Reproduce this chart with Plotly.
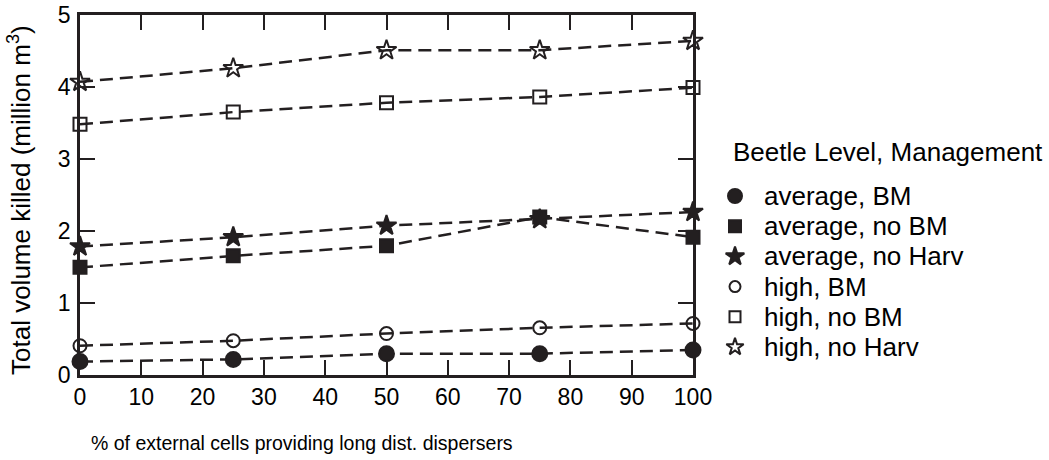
import plotly.graph_objects as go

# ---- data ----
dispersal_pct = [0, 25, 50, 75, 100]
avg_bm = [0.18, 0.21, 0.29, 0.29, 0.34]
avg_no_bm = [1.49, 1.65, 1.79, 2.19, 1.91]
avg_no_harv = [1.78, 1.91, 2.07, 2.16, 2.26]
high_bm = [0.40, 0.47, 0.57, 0.65, 0.71]
high_no_bm = [3.48, 3.65, 3.78, 3.86, 3.99]
high_no_harv = [4.07, 4.26, 4.51, 4.51, 4.64]

series_names = ["average, BM", "average, no BM", "average, no Harv",
                "high, BM", "high, no BM", "high, no Harv"]
x_ticks = list(range(0, 101, 10))
y_ticks = [0, 1, 2, 3, 4, 5]

# ---- style ----
W, H = 1049, 460
INK = "#231f20"
FONT = "Arial, Liberation Sans, sans-serif"

series_values = [avg_bm, avg_no_bm, avg_no_harv, high_bm, high_no_bm, high_no_harv]
symbols = ["circle", "square", "star", "circle-open", "square-open", "star-open"]
plot_sizes = [15, 13, 15, 13, 13, 15]
legend_sizes = [14, 12, 14, 11, 11, 13]

# plot box in pixels (left, right, top, bottom)
L, R, T, B = 80, 693, 15, 374.5

fig = go.Figure()

for name, vals, sym, sz in zip(series_names, series_values, symbols, plot_sizes):
    fig.add_trace(go.Scatter(
        x=dispersal_pct, y=vals, name=name, mode="lines+markers",
        line=dict(color=INK, width=2.5, dash="13px,7px"),
        marker=dict(symbol=sym, size=sz, color=INK, line=dict(color=INK, width=2)),
        showlegend=False, cliponaxis=False,
    ))

# key glyphs on an overlay axis measured in pixels
LEG_X, LEG_TEXT_X, LEG_Y0, LEG_DY = 735, 762, 196, 30.2
for i, (name, sym, sz) in enumerate(zip(series_names, symbols, legend_sizes)):
    fig.add_trace(go.Scatter(
        x=[LEG_X], y=[LEG_Y0 + i * LEG_DY], mode="markers", xaxis="x2", yaxis="y2",
        marker=dict(symbol=sym, size=sz, color=INK, line=dict(color=INK, width=2)),
        showlegend=False, hoverinfo="skip",
    ))
    fig.add_annotation(
        x=LEG_TEXT_X / W, y=1 - (LEG_Y0 + i * LEG_DY) / H, xref="paper", yref="paper",
        text=name, showarrow=False, xanchor="left", yanchor="middle",
        font=dict(family=FONT, size=26, color="black"),
    )

fig.add_annotation(
    x=731 / W, y=1 - 152 / H, xref="paper", yref="paper",
    text="Beetle Level, Management", showarrow=False, xanchor="left", yanchor="middle",
    font=dict(family=FONT, size=26, color="black"),
)

# axis titles
fig.add_annotation(
    x=302 / W, y=1 - 443 / H, xref="paper", yref="paper",
    text="% of external cells providing long dist. dispersers", showarrow=False,
    xanchor="center", yanchor="middle",
    font=dict(family=FONT, size=19.5, color="black"),
)
fig.add_annotation(
    x=20 / W, y=1 - 200 / H, xref="paper", yref="paper",
    text="Total volume killed (million m<sup>3</sup>)", showarrow=False, textangle=-90,
    xanchor="center", yanchor="middle",
    font=dict(family=FONT, size=26, color="black"),
)

axis_common = dict(
    showline=True, linecolor=INK, linewidth=2.5, mirror="ticks",
    ticks="inside", ticklen=15, tickwidth=2, tickcolor=INK,
    showgrid=False, zeroline=False, automargin=False,
    tickfont=dict(family=FONT, size=23, color="black"),
)

fig.update_layout(
    template="none",
    width=W, height=H,
    margin=dict(l=0, r=0, t=0, b=0, pad=0, autoexpand=False),
    paper_bgcolor="white", plot_bgcolor="rgba(0,0,0,0)",
    xaxis=dict(domain=[L / W, R / W], range=[0, 100], tickvals=x_ticks,
               anchor="y", ticklabelstandoff=0, **axis_common),
    yaxis=dict(domain=[1 - B / H, 1 - T / H], range=[0, 5], tickvals=y_ticks,
               anchor="x", ticklabelstandoff=2, **axis_common),
    xaxis2=dict(domain=[0, 1], range=[0, W], visible=False, anchor="y2",
                fixedrange=True, automargin=False),
    yaxis2=dict(domain=[0, 1], range=[H, 0], visible=False, anchor="x2",
                fixedrange=True, automargin=False),
    showlegend=False,
)

fig.write_html("out.html",
               post_script="document.body.style.margin='0';document.body.style.overflow='hidden';")
